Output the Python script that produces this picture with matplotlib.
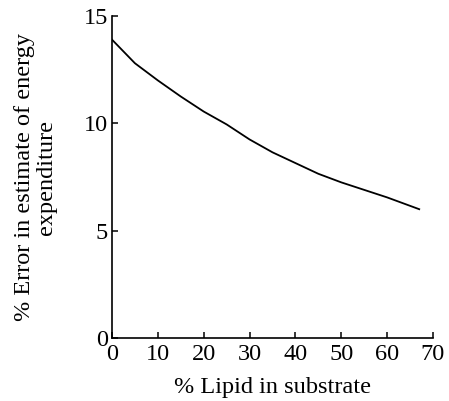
import matplotlib.pyplot as plt

# % lipid in substrate vs % error in energy expenditure estimate
lipid_pct = [0, 5, 10, 15, 20, 25, 30, 35, 40, 45, 50, 55, 60, 67]
error_pct = [13.9, 12.8, 12.0, 11.25, 10.55, 9.95, 9.25, 8.65, 8.15, 7.65, 7.25, 6.9, 6.55, 6.0]

x_ticks = [0, 10, 20, 30, 40, 50, 60, 70]
y_ticks = [0, 5, 10, 15]

plt.rcParams["font.family"] = ["Liberation Serif", "DejaVu Serif"]

fig = plt.figure(figsize=(4.49, 4.01), dpi=100)
ax = fig.add_axes([0.2494, 0.1571, 0.7149, 0.803])

ax.plot(lipid_pct, error_pct, color="black", linewidth=1.3)

ax.set_xlim(0, 70)
ax.set_ylim(0, 15)
ax.set_xticks(x_ticks)
ax.set_yticks(y_ticks)

for side in ["top", "right"]:
    ax.spines[side].set_visible(False)
for side in ["left", "bottom"]:
    ax.spines[side].set_linewidth(1.2)

ax.tick_params(direction="in", length=4.5, width=1.1, labelsize=17.5)
ax.tick_params(axis="x", pad=4)
ax.tick_params(axis="y", pad=3)
ax.set_xlabel("% Lipid in substrate", fontsize=17.5, labelpad=9)
ax.set_ylabel("% Error in estimate of energy\nexpenditure", fontsize=17.5,
              linespacing=1.1)
ax.yaxis.set_label_coords(-0.17, 0.5)

fig.savefig("out.png", dpi=100)
